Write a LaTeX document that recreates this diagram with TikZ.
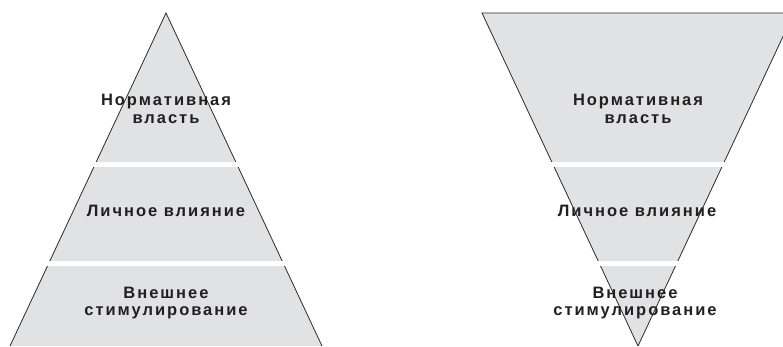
\documentclass[tikz,border=0pt]{standalone}
\usepackage{fontspec}
\setmainfont{Liberation Sans}
\newfontfamily\labelfont[LetterSpace=12]{Liberation Sans Bold}
\definecolor{levelgray}{HTML}{E1E2E4}
\definecolor{textdark}{HTML}{231F20}
\definecolor{edgedark}{HTML}{2A2A2A}
\begin{document}
\begin{tikzpicture}[x=1pt,y=-1pt,
  edge/.style={draw=edgedark,line width=0.8pt},
  gap/.style={fill=white,draw=none},
  levellabel/.style={font=\labelfont\fontsize{16.5}{17.5}\selectfont,text=textdark,align=center,inner sep=0pt}]
\useasboundingbox (0,0) rectangle (783,346);
\clip (0,0) rectangle (783,346);
% left pyramid
\coordinate (LA) at (166,13);
\coordinate (LBl) at (10,346);
\coordinate (LBr) at (322,346);
\fill[levelgray] (LA) -- (LBr) -- (LBl) -- cycle;
\draw[edge] (LBl) -- (LA) -- (LBr);
% right inverted pyramid
\coordinate (RTl) at (482,13);
\coordinate (RTr) at (794,13);
\coordinate (RA) at (638,346);
\fill[levelgray] (RTl) -- (RTr) -- (RA) -- cycle;
\draw[edge] (RA) -- (RTl) -- (RTr) -- (RA);
% white gaps between levels
\fill[gap] (0,162) rectangle (783,167);
\fill[gap] (0,261) rectangle (783,266);
% labels
\node[levellabel] (l1) at (166,109) {Нормативная\\власть};
\node[levellabel] (l2) at (166,211) {Личное влияние};
\node[levellabel] (l3) at (166,303) {Внешнее\\стимулирование};
\node[levellabel] (r1) at (638,109) {Нормативная\\власть};
\node[levellabel] (r2) at (637,211) {Личное влияние};
\node[levellabel] (r3) at (635,303) {Внешнее\\стимулирование};
\end{tikzpicture}
\end{document}
